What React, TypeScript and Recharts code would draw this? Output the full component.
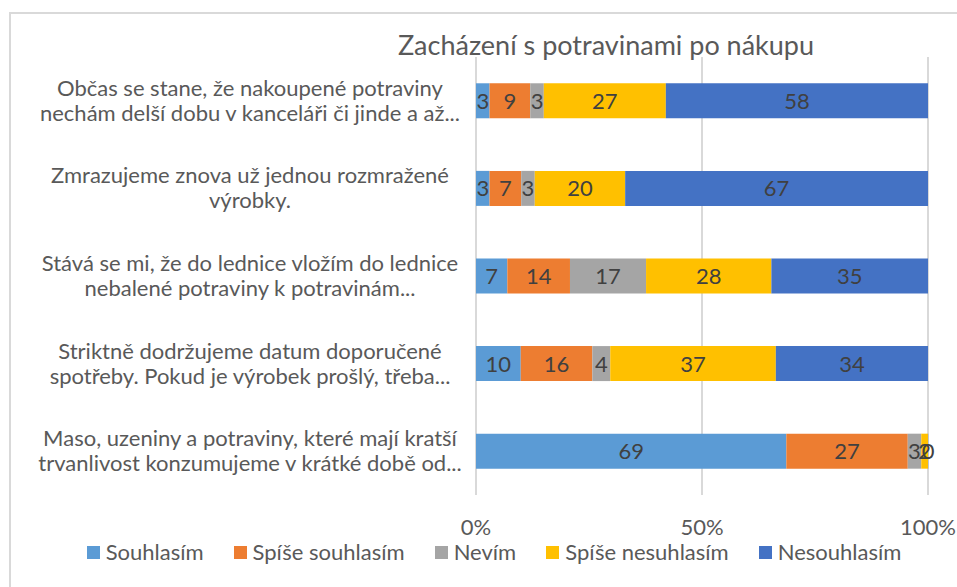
import { Bar, BarChart, CartesianGrid, LabelList, XAxis, YAxis } from 'recharts'

// Category labels (two lines, truncated like in the original)
const categories = [
  'Občas se stane, že nakoupené potraviny\nnechám delší dobu v kanceláři či jinde a až...',
  'Zmrazujeme znova už jednou rozmražené\nvýrobky.',
  'Stává se mi, že do lednice vložím do lednice\nnebalené potraviny k potravinám...',
  'Striktně dodržujeme datum doporučené\nspotřeby. Pokud je výrobek prošlý, třeba...',
  'Maso, uzeniny a potraviny, které mají kratší\ntrvanlivost konzumujeme v krátké době od...',
]

// Series values (%)
const souhlasim = [3, 3, 7, 10, 69]
const spiseSouhlasim = [9, 7, 14, 16, 27]
const nevim = [3, 3, 17, 4, 3]
const spiseNesouhlasim = [27, 20, 28, 37, 1.5]
const nesouhlasim = [58, 67, 35, 34, 0]

const seriesNames = ['Souhlasím', 'Spíše souhlasím', 'Nevím', 'Spíše nesuhlasím', 'Nesouhlasím']
const seriesKeys = ['s1', 's2', 's3', 's4', 's5']
const seriesColors = ['#5B9BD5', '#ED7D31', '#A5A5A5', '#FFC000', '#4472C4']
const xTicks = [0, 0.5, 1]

const title = 'Zacházení s potravinami po nákupu'

const data = categories.map((name, i) => ({
  name,
  s1: souhlasim[i],
  s2: spiseSouhlasim[i],
  s3: nevim[i],
  s4: spiseNesouhlasim[i],
  s5: nesouhlasim[i],
}))

const FONT = 'Lato, "Noto Sans", sans-serif'
const TEXT = '#595959'

function CategoryTick({ y, payload }: any) {
  const lines = String(payload.value).split('\n')
  return (
    <text x={250} y={y} textAnchor='middle' fill={TEXT} fontSize={22} fontFamily={FONT}>
      {lines.map((line, i) => (
        <tspan key={i} x={250} y={y - 5 + i * 25}>
          {line}
        </tspan>
      ))}
    </text>
  )
}

function PercentTick({ x, y, payload }: any) {
  return (
    <text x={x} y={y + 38} textAnchor='middle' fill={TEXT} fontSize={22} fontFamily={FONT}>
      {`${Math.round(payload.value * 100)}%`}
    </text>
  )
}

const renderValue = (props: any) => {
  const { x, y, width, height, value } = props
  return (
    <text
      x={Number(x) + Number(width) / 2}
      y={Number(y) + Number(height) / 2 + 8}
      textAnchor='middle'
      fill='#404040'
      fontSize={22}
      fontFamily={FONT}
    >
      {Math.round(Number(value))}
    </text>
  )
}

export default function App() {
  return (
    <div style={{ position: 'absolute', left: 0, top: 0, width: 957, height: 587, background: '#fff', overflow: 'hidden' }}>
      {/* chart frame */}
      <div style={{ position: 'absolute', left: 9, top: 12, width: 960, height: 600, borderLeft: '2px solid #d9d9d9', borderTop: '2px solid #d9d9d9' }} />
      <div style={{ position: 'absolute', left: 0, top: 25, width: 1212, textAlign: 'center', fontFamily: FONT, fontSize: 27, color: TEXT, lineHeight: '40px' }}>
        {title}
      </div>
      <div style={{ position: 'absolute', left: 0, top: 0 }}>
        <BarChart
          width={957}
          height={587}
          data={data}
          layout='vertical'
          stackOffset='expand'
          barCategoryGap='30%'
          margin={{ top: 57, right: 29, bottom: 62, left: 0 }}
        >
          <CartesianGrid horizontal={false} stroke='#d9d9d9' strokeWidth={2} />
          <XAxis
            type='number'
            domain={[0, 1]}
            ticks={xTicks}
            axisLine={false}
            tickLine={false}
            tickSize={0}
            height={30}
            tick={<PercentTick />}
          />
          <YAxis
            type='category'
            dataKey='name'
            width={476}
            axisLine={false}
            tickLine={false}
            tick={<CategoryTick />}
            interval={0}
          />
          {seriesKeys.map((key, i) => (
            <Bar
              key={key}
              dataKey={key}
              name={seriesNames[i]}
              stackId='a'
              fill={seriesColors[i]}
              minPointSize={0.2}
              isAnimationActive={false}
            >
              <LabelList dataKey={key} content={renderValue} />
            </Bar>
          ))}
        </BarChart>
      </div>
      {/* legend */}
      <div style={{ position: 'absolute', left: 31, top: 538, width: 926, display: 'flex', justifyContent: 'center', fontFamily: FONT, fontSize: 22, color: TEXT, lineHeight: '28px' }}>
        {seriesNames.map((name, i) => (
          <div key={name} style={{ display: 'flex', alignItems: 'center', marginRight: i < seriesNames.length - 1 ? 30 : 0 }}>
            <span style={{ display: 'inline-block', width: 13, height: 13, background: seriesColors[i], marginRight: 6 }} />
            <span>{name}</span>
          </div>
        ))}
      </div>
    </div>
  )
}
